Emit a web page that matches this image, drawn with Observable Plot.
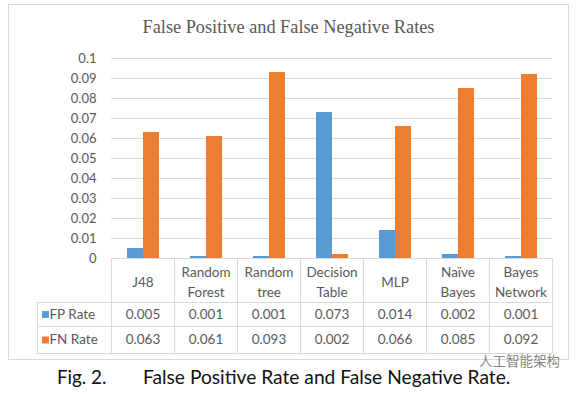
<!DOCTYPE html>
<html><head><meta charset="utf-8">
<script src="https://cdn.jsdelivr.net/npm/d3@7"></script>
<script src="https://cdn.jsdelivr.net/npm/@observablehq/plot@0.6"></script>
<style>
html,body{margin:0;padding:0;background:#fff;}
#wrap{position:relative;width:579px;height:394px;overflow:hidden;font-family:Lato,"Open Sans",sans-serif;}
#frame{position:absolute;left:8px;top:4px;width:561px;height:356px;border:1px solid #d9d9d9;box-sizing:border-box;}
#title{position:absolute;left:8px;top:16px;width:561px;text-align:center;font-family:"Liberation Serif","Times New Roman",serif;font-size:18.3px;line-height:22px;color:#595959;}
.cap{position:absolute;top:368px;font-size:18.8px;line-height:18px;color:#111;white-space:nowrap;}
#wm{position:absolute;left:479px;top:353px;font-family:"Noto Sans CJK SC",sans-serif;font-size:13.5px;line-height:14px;color:rgba(100,100,100,0.8);}
svg.abs{position:absolute;left:0;}
</style>
</head><body>
<div id="wrap">
  <div id="frame"></div>
  <div id="title">False Positive and False Negative Rates</div>
  <div class="cap" style="left:57px">Fig. 2.</div>
  <div class="cap" style="left:143px;font-size:19.2px">False Positive Rate and False Negative Rate.</div>
  <div id="wm">人工智能架构</div>
</div>
<script>
const categories = ["J48","Random Forest","Random tree","Decision Table","MLP","Naïve Bayes","Bayes Network"];
const seriesNames = ["FP Rate","FN Rate"];
const fpRate = [0.005,0.001,0.001,0.073,0.014,0.002,0.001];
const fnRate = [0.063,0.061,0.093,0.002,0.066,0.085,0.092];
const yTicks = [0,0.01,0.02,0.03,0.04,0.05,0.06,0.07,0.08,0.09,0.1];
const colors = ["#5B9BD5","#ED7D31"];
const valueRows = [fpRate, fnRate];

const rows = categories.flatMap((c,i)=>[
  {cat:c, series:seriesNames[0], value:fpRate[i]},
  {cat:c, series:seriesNames[1], value:fnRate[i]}
]);

const gray = "#595959", line = "#d9d9d9";

const chart = Plot.plot({
  width:579, height:261, marginLeft:111, marginRight:27, marginTop:58, marginBottom:3,
  style:{background:"transparent", fontFamily:"Lato, 'Open Sans', sans-serif", color:gray, overflow:"visible"},
  fx:{domain:categories, padding:0, axis:null, label:null},
  x:{domain:seriesNames, paddingInner:0, paddingOuter:0.9, axis:null},
  y:{domain:[0,0.1]},
  color:{domain:seriesNames, range:colors},
  marks:[
    Plot.gridY(yTicks,{stroke:line, strokeOpacity:1}),
    Plot.axisY(yTicks,{tickSize:0, tickPadding:15, label:null, fill:gray, fontSize:13, tickFormat:d=>String(d)}),
    Plot.barY(rows,{fx:"cat", x:"series", y:"value", fill:"series"})
  ]
});
chart.classList.add("abs");
chart.style.top = "0px";
document.getElementById("wrap").appendChild(chart);

// data table under the chart, columns aligned with the category bands
const rowEdges = [0,44,68,95];
const rowMid = [22,56,81.5];
const legendLeft = -1.175;
const table = Plot.plot({
  width:579, height:99, marginLeft:37, marginRight:27, marginTop:1, marginBottom:3,
  style:{background:"transparent", fontFamily:"Lato, 'Open Sans', sans-serif", color:gray, overflow:"visible"},
  x:{domain:[legendLeft,7], axis:null},
  y:{domain:[0,95], range:[1,96], axis:null},
  marks:[
    Plot.ruleX(d3.range(0,8), {y1:rowEdges[0], y2:rowEdges[3], stroke:line, strokeOpacity:1}),
    Plot.ruleX([legendLeft], {y1:rowEdges[1], y2:rowEdges[3], stroke:line, strokeOpacity:1}),
    Plot.ruleY([rowEdges[0]], {x1:0, x2:7, stroke:line, strokeOpacity:1}),
    Plot.ruleY(rowEdges.slice(1), {x1:legendLeft, x2:7, stroke:line, strokeOpacity:1}),
    Plot.text(categories, {x:(d,i)=>i+0.5, y:rowMid[0], text:d=>d.replace(" ","\n"), lineHeight:1.45, fontSize:13.5, fill:gray}),
    ...valueRows.map((vals,r)=>Plot.text(vals, {x:(d,i)=>i+0.5, y:rowMid[r+1], text:d=>d.toFixed(3), fontSize:13.5, fill:gray})),
    Plot.dot(seriesNames, {x:legendLeft+0.127, y:(d,i)=>rowMid[i+1], symbol:"square", r:3.9, fill:(d,i)=>colors[i], stroke:null}),
    Plot.text(seriesNames, {x:legendLeft+0.19, y:(d,i)=>rowMid[i+1], text:d=>d, textAnchor:"start", fontSize:13.5, fill:gray})
  ]
});
table.classList.add("abs");
table.style.top = "257px";
document.getElementById("wrap").appendChild(table);
</script>
</body></html>
